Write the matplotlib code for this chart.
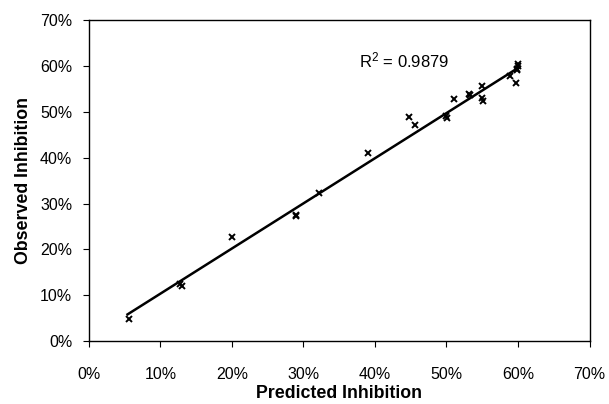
import numpy as np
import matplotlib
matplotlib.use("Agg")
import matplotlib.pyplot as plt
from matplotlib.ticker import FuncFormatter, MultipleLocator

plt.rcParams["font.family"] = ["Liberation Sans", "DejaVu Sans"]
plt.rcParams["mathtext.fontset"] = "custom"
plt.rcParams["mathtext.rm"] = "Liberation Sans"
plt.rcParams["mathtext.it"] = "Liberation Sans"

# predicted vs observed inhibition (%)
predicted = [5.6, 12.8, 13.0, 20.0, 29.0, 28.9, 32.2, 39.0, 44.8, 45.6,
             50.0, 50.1, 51.0, 53.2, 53.3, 54.9, 55.0, 55.1, 58.9, 59.7,
             59.8, 59.9, 60.0, 60.0]
observed = [4.9, 12.4, 11.9, 22.6, 27.5, 27.2, 32.3, 41.0, 48.9, 47.1,
            49.2, 48.7, 52.8, 53.8, 53.6, 55.7, 53.0, 52.4, 57.9, 56.3,
            59.1, 59.4, 60.5, 59.9]
# linear trendline as drawn in the chart
trend_slope = 0.985
trend_intercept = 0.48
trend_x = [5.4, 60.0]
r2_label = "R$^2$ = 0.9879"

xl = np.array(trend_x)

fig = plt.figure(figsize=(6.09, 4.04), dpi=100)
ax = fig.add_axes([0.146, 0.156, 0.822, 0.794])

ax.plot(xl, trend_slope * xl + trend_intercept, color="black", lw=1.8, zorder=2)
ax.plot(predicted, observed, linestyle="none", marker="x", ms=5, mew=1.4,
        color="black", zorder=3)

ax.set_xlim(0, 70)
ax.set_ylim(0, 70)
ax.xaxis.set_major_locator(MultipleLocator(10))
ax.yaxis.set_major_locator(MultipleLocator(10))
pct = FuncFormatter(lambda v, p: f"{v:.0f}%")
ax.xaxis.set_major_formatter(pct)
ax.yaxis.set_major_formatter(pct)
ax.tick_params(direction="out", length=4, width=0.8, labelsize=11.5)
ax.tick_params(axis="x", pad=15)
ax.tick_params(axis="y", pad=8)

for s in ax.spines.values():
    s.set_linewidth(1.0)
    s.set_color("black")

ax.set_xlabel("Predicted Inhibition", fontsize=12.8, fontweight="bold", labelpad=2)
ax.set_ylabel("Observed Inhibition", fontsize=12.8, fontweight="bold", labelpad=6)

ax.text(37.8, 59.8, r2_label, fontsize=12, ha="left", va="baseline")

fig.savefig("out.png", dpi=100)
